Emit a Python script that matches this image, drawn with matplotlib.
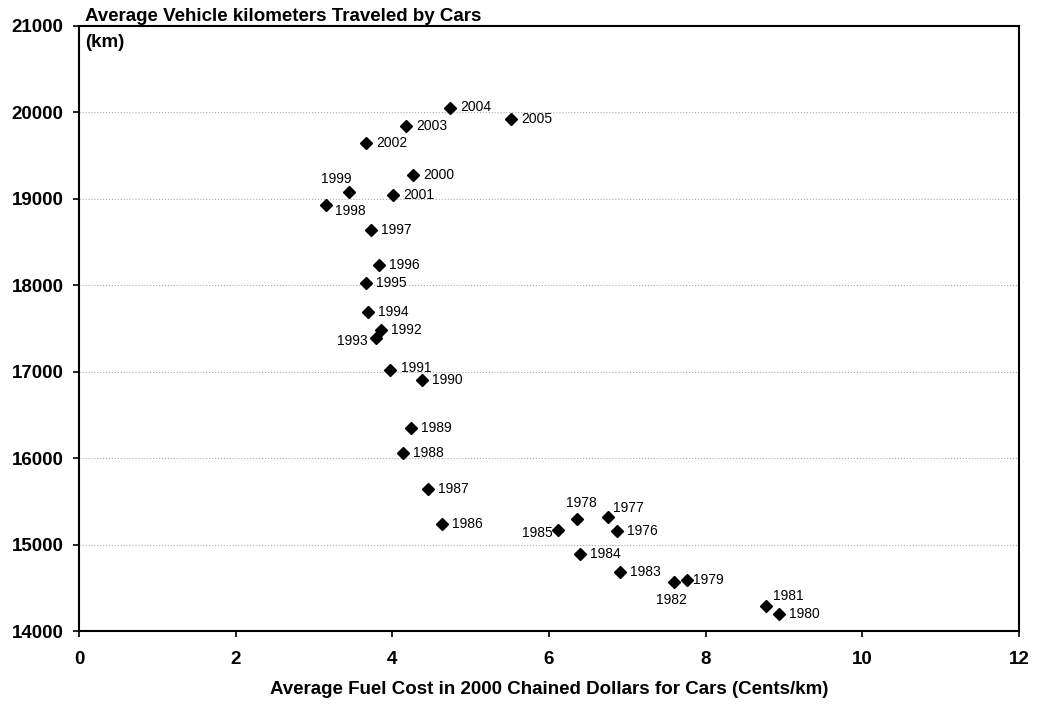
import matplotlib.pyplot as plt

plt.rcParams['font.family'] = ['Liberation Sans', 'DejaVu Sans']

# Data: (fuel cost cents/km, avg km travelled per car)
years = [1976, 1977, 1978, 1979, 1980, 1981, 1982, 1983, 1984, 1985,
         1986, 1987, 1988, 1989, 1990, 1991, 1992, 1993, 1994, 1995,
         1996, 1997, 1998, 1999, 2000, 2001, 2002, 2003, 2004, 2005]
fuel_cost = [6.87, 6.75, 6.36, 7.76, 8.94, 8.77, 7.59, 6.91, 6.39, 6.11,
             4.63, 4.46, 4.13, 4.24, 4.38, 3.97, 3.86, 3.79, 3.69, 3.66,
             3.83, 3.73, 3.15, 3.45, 4.27, 4.01, 3.67, 4.18, 4.74, 5.52]
vkt = [15162, 15324, 15294, 14591, 14193, 14290, 14571, 14684, 14889, 15170,
       15232, 15645, 16054, 16352, 16905, 17013, 17476, 17387, 17693, 18029,
       18233, 18643, 18924, 19072, 19276, 19040, 19643, 19843, 20048, 19921]

# label placement (pixel offsets, alignment) for the ones not simply to the right
special = {
    1999: (-13, 13, 'center'),
    1998: (9, -6, 'left'),
    1993: (-8, -3, 'right'),
    1985: (-5, -3, 'right'),
    1978: (4, 16, 'center'),
    1977: (5, 9, 'left'),
    1982: (-2, -18, 'center'),
    1979: (6, 0, 'left'),
    1981: (7, 10, 'left'),
    2004: (10, 1, 'left'),
    1991: (11, 2, 'left'),
}

fig = plt.figure(figsize=(10.37, 7.09), dpi=100)
ax = fig.add_axes([0.0762, 0.110, 0.9064, 0.8537])

ax.plot(fuel_cost, vkt, linestyle='none', marker='D', markersize=6,
        color='black')

for yr, x, y in zip(years, fuel_cost, vkt):
    dx, dy, ha = special.get(yr, (10, 0, 'left'))
    ax.annotate(str(yr), (x, y), xytext=(dx, dy), textcoords='offset pixels',
                ha=ha, va='center', fontsize=10)

ax.set_xlim(0, 12)
ax.set_ylim(14000, 21000)
ax.set_xticks(range(0, 13, 2))
ax.set_yticks(range(14000, 21001, 1000))
ax.tick_params(direction='out', length=4, width=1.2, labelsize=13.5)
ax.yaxis.set_tick_params(pad=7)
ax.xaxis.set_tick_params(pad=10.5)
for lab in ax.get_xticklabels() + ax.get_yticklabels():
    lab.set_fontweight('bold')

ax.grid(axis='y', linestyle=':', color='#aaaaaa', linewidth=0.8)
ax.set_axisbelow(True)
for sp in ax.spines.values():
    sp.set_linewidth(1.5)
    sp.set_color('black')

fig.text(549 / 1037, 15 / 709, 'Average Fuel Cost in 2000 Chained Dollars for Cars (Cents/km)',
         ha='center', va='baseline', fontsize=13.5, fontweight='bold')
fig.text(85 / 1037, 1 - 21 / 709, 'Average Vehicle kilometers Traveled by Cars',
         ha='left', va='baseline', fontsize=13.5, fontweight='bold')
fig.text(85 / 1037, 1 - 47 / 709, '(km)',
         ha='left', va='baseline', fontsize=13.5, fontweight='bold')

fig.savefig('out.png', dpi=100)
